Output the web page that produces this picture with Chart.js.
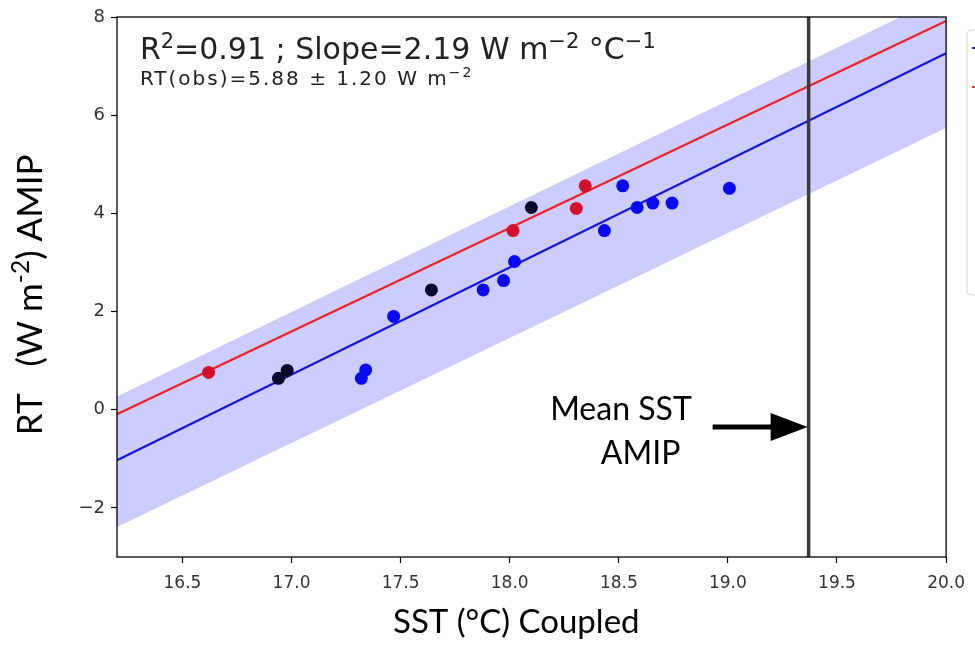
<!DOCTYPE html>
<html>
<head>
<meta charset="utf-8">
<script src="https://cdn.jsdelivr.net/npm/chart.js@4.4.1/dist/chart.umd.min.js"></script>
<style>
  html, body { margin: 0; padding: 0; background: #ffffff; }
  #wrap { width: 975px; height: 650px; position: relative; }
</style>
</head>
<body>
<div id="wrap"><canvas id="c" width="975" height="650"></canvas></div>
<script>
// ---- data ----
const redX   = [16.62, 18.015, 18.305, 18.346];
const redY   = [0.76, 3.65, 4.10, 4.56];
const blackX = [16.94, 16.98, 17.641, 18.099];
const blackY = [0.64, 0.80, 2.44, 4.12];
const blueX  = [17.32, 17.34, 17.468, 17.878, 17.972, 18.022, 18.434, 18.518, 18.584, 18.656, 18.744, 19.007];
const blueY  = [0.64, 0.81, 1.90, 2.44, 2.63, 3.02, 3.65, 4.56, 4.12, 4.21, 4.21, 4.51];

const fitX      = [16.2, 20.0];
const redFitY   = [-0.09, 7.92];
const blueFitY  = [-1.03, 7.26];
const bandUpY   = [0.27, 8.45];
const bandLowY  = [-2.39, 5.74];

const meanSstAmip = 19.37;
const yRange = [-3, 8];
const xRange = [16.2, 20.0];

const xTicks = [16.5, 17.0, 17.5, 18.0, 18.5, 19.0, 19.5, 20.0];
const xTickLabels = ['16.5', '17.0', '17.5', '18.0', '18.5', '19.0', '19.5', '20.0'];
const yTicks = [-2, 0, 2, 4, 6, 8];
const yTickLabels = ['\u22122', '0', '2', '4', '6', '8'];

// rich text: [text, isSuperscript]
const statsText = [['R', 0], ['2', 1], ['=0.91 ; Slope=2.19 W m', 0], ['\u22122', 1], [' \u00B0C', 0], ['\u22121', 1]];
const obsText   = [['RT(obs)=5.88 \u00B1 1.20 W m', 0], ['\u22122', 1]];
const xTitle = [['SST (\u00B0C) Coupled', 0]];
const yTitle = [['RT   (W m', 0], ['-2', 1], [') AMIP', 0]];
const noteLines = ['Mean SST', 'AMIP'];

// ---- helpers ----
const pts = (xs, ys) => xs.map((x, i) => ({ x: x, y: ys[i] }));

function richWidth(ctx, segs, size, family) {
  let w = 0;
  for (const [t, sup] of segs) {
    ctx.font = (sup ? size * 0.7 : size) + 'px ' + family;
    w += ctx.measureText(t).width;
  }
  return w;
}
function drawRich(ctx, x, y, segs, size, family, align) {
  const total = richWidth(ctx, segs, size, family);
  let cx = align === 'center' ? x - total / 2 : x;
  ctx.textAlign = 'left';
  ctx.textBaseline = 'alphabetic';
  for (const [t, sup] of segs) {
    ctx.font = (sup ? size * 0.7 : size) + 'px ' + family;
    ctx.fillText(t, cx, sup ? y - size * 0.38 : y);
    cx += ctx.measureText(t).width;
  }
}

const overlay = {
  id: 'overlay',
  afterDatasetsDraw(chart) {
    const { ctx, chartArea: a, scales } = chart;
    const xs = scales.x, ys = scales.y;
    ctx.save();
    // frame
    ctx.strokeStyle = '#000';
    ctx.lineWidth = 1.3;
    ctx.strokeRect(a.left, a.top, a.right - a.left, a.bottom - a.top);

    // stats text
    ctx.fillStyle = '#222';
    drawRich(ctx, xs.getPixelForValue(16.305), ys.getPixelForValue(7.14), statsText, 30, '"DejaVu Sans"', 'left');
    ctx.save();
    ctx.letterSpacing = '2px';
    drawRich(ctx, xs.getPixelForValue(16.305), ys.getPixelForValue(6.615), obsText, 20, '"DejaVu Sans"', 'left');
    ctx.restore();

    // Mean SST note
    ctx.fillStyle = '#000';
    ctx.font = '32px Lato';
    ctx.textAlign = 'center';
    ctx.fillText(noteLines[0], xs.getPixelForValue(18.51), ys.getPixelForValue(-0.2));
    ctx.fillText(noteLines[1], xs.getPixelForValue(18.60), ys.getPixelForValue(-1.1));

    // arrow
    const ay = ys.getPixelForValue(-0.35);
    const tipX = xs.getPixelForValue(meanSstAmip) - 1;
    const tailX = xs.getPixelForValue(18.93);
    ctx.strokeStyle = '#000';
    ctx.lineWidth = 5;
    ctx.beginPath();
    ctx.moveTo(tailX, ay);
    ctx.lineTo(tipX - 30, ay);
    ctx.stroke();
    ctx.beginPath();
    ctx.moveTo(tipX - 37, ay - 14);
    ctx.lineTo(tipX, ay);
    ctx.lineTo(tipX - 37, ay + 14);
    ctx.closePath();
    ctx.fill();

    // clipped legend box at right edge
    const lx = a.right + 21, ly = a.top + 13;
    ctx.strokeStyle = '#d8d8d8';
    ctx.lineWidth = 1;
    ctx.beginPath();
    const r = 4, w = 60, h = 265;
    ctx.moveTo(lx + r, ly);
    ctx.lineTo(lx + w, ly);
    ctx.moveTo(lx + w, ly + h);
    ctx.lineTo(lx + r, ly + h);
    ctx.arcTo(lx, ly + h, lx, ly + h - r, r);
    ctx.lineTo(lx, ly + r);
    ctx.arcTo(lx, ly, lx + r, ly, r);
    ctx.stroke();
    ctx.lineWidth = 2;
    ctx.strokeStyle = '#2a2ae8';
    ctx.beginPath(); ctx.moveTo(lx + 5, ly + 18); ctx.lineTo(lx + 12, ly + 18); ctx.stroke();
    ctx.strokeStyle = '#ee3030';
    ctx.beginPath(); ctx.moveTo(lx + 5, ly + 57); ctx.lineTo(lx + 12, ly + 57); ctx.stroke();

    // axis titles
    ctx.fillStyle = '#000';
    drawRich(ctx, xs.getPixelForValue(18.03), 633, xTitle, 33, 'Lato', 'center');
    ctx.save();
    ctx.translate(42, ys.getPixelForValue(2.34));
    ctx.rotate(-Math.PI / 2);
    drawRich(ctx, 0, 0, yTitle, 35, 'Lato', 'center');
    ctx.restore();

    ctx.restore();
  }
};

new Chart(document.getElementById('c'), {
  type: 'scatter',
  data: {
    datasets: [
      { label: 'band upper', data: pts(fitX, bandUpY), showLine: true, pointRadius: 0, borderWidth: 0,
        borderColor: 'rgba(0,0,0,0)', backgroundColor: 'rgba(0,0,255,0.2)', fill: '+1', order: 6 },
      { label: 'band lower', data: pts(fitX, bandLowY), showLine: true, pointRadius: 0, borderWidth: 0,
        borderColor: 'rgba(0,0,0,0)', fill: false, order: 7 },
      { label: 'Mean SST AMIP', data: [{ x: meanSstAmip, y: yRange[0] }, { x: meanSstAmip, y: yRange[1] }],
        showLine: true, pointRadius: 0, borderWidth: 3.5, borderColor: '#3a3a3a', fill: false, order: 3 },
      { label: 'red fit', data: pts(fitX, redFitY), showLine: true, pointRadius: 0, borderWidth: 2.2,
        borderColor: '#ec2222', fill: false, order: 4 },
      { label: 'blue fit', data: pts(fitX, blueFitY), showLine: true, pointRadius: 0, borderWidth: 2.2,
        borderColor: '#1414dc', fill: false, order: 4 },
      { label: 'blue', data: pts(blueX, blueY), pointRadius: 6.5, pointBorderWidth: 0,
        backgroundColor: '#0a0af0', borderColor: '#0a0af0', order: 2 },
      { label: 'red', data: pts(redX, redY), pointRadius: 6.5, pointBorderWidth: 0,
        backgroundColor: '#d6102c', borderColor: '#d6102c', order: 1 },
      { label: 'black', data: pts(blackX, blackY), pointRadius: 6.5, pointBorderWidth: 0,
        backgroundColor: '#07072a', borderColor: '#07072a', order: 0 }
    ]
  },
  options: {
    responsive: false,
    animation: false,
    events: [],
    layout: { padding: { top: 17, right: 28, left: 0, bottom: 0 } },
    plugins: { legend: { display: false }, tooltip: { enabled: false } },
    scales: {
      x: {
        type: 'linear', min: xRange[0], max: xRange[1],
        afterBuildTicks: (s) => { s.ticks = xTicks.map(v => ({ value: v })); },
        afterFit: (s) => { s.height = 93; },
        border: { display: false },
        grid: { drawOnChartArea: false, drawTicks: true, tickLength: 6, tickColor: '#000', tickWidth: 1.2 },
        ticks: {
          color: '#333', padding: 10,
          font: { family: 'DejaVu Sans', size: 17 },
          callback: (v) => { const i = xTicks.indexOf(v); return i >= 0 ? xTickLabels[i] : ''; }
        },
        title: { display: false }
      },
      y: {
        type: 'linear', min: yRange[0], max: yRange[1],
        afterBuildTicks: (s) => { s.ticks = yTicks.map(v => ({ value: v })); },
        afterFit: (s) => { s.width = 117; },
        border: { display: false },
        grid: { drawOnChartArea: false, drawTicks: true, tickLength: 6, tickColor: '#000', tickWidth: 1.2 },
        ticks: {
          color: '#333', padding: 6,
          font: { family: 'DejaVu Sans', size: 18 },
          callback: (v) => { const i = yTicks.indexOf(v); return i >= 0 ? yTickLabels[i] : ''; }
        },
        title: { display: false }
      }
    }
  },
  plugins: [overlay]
});
</script>
</body>
</html>
